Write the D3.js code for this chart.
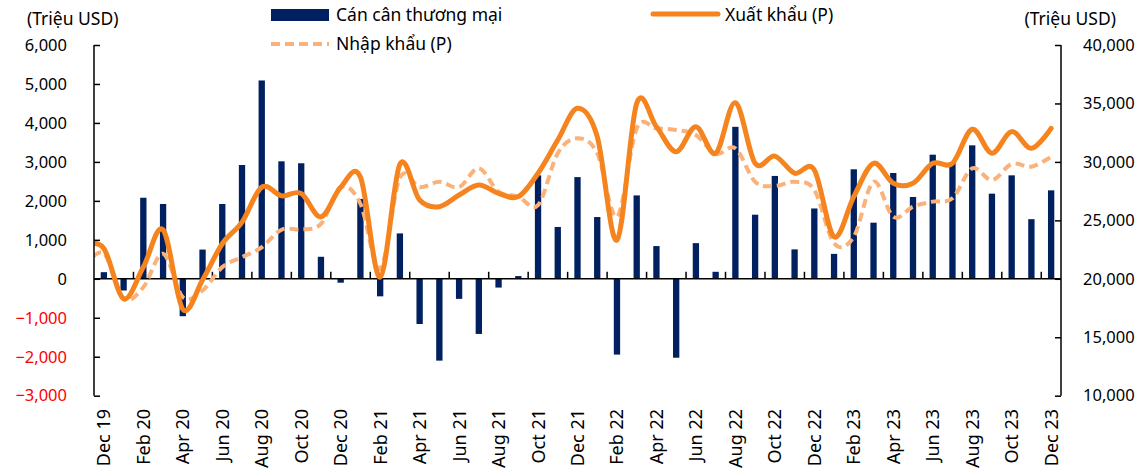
<!DOCTYPE html>
<html>
<head>
<meta charset="utf-8">
<script src="https://cdn.jsdelivr.net/npm/d3@7"></script>
<style>
  body { margin: 0; background: #fff; }
  text { font-family: "Noto Sans", "Open Sans", sans-serif; fill: #000; }
</style>
</head>
<body>
<svg width="1145" height="476"></svg>
<script>
const months = [
  "Dec 19",
  "Jan 20", "Feb 20", "Mar 20", "Apr 20", "May 20", "Jun 20", "Jul 20", "Aug 20", "Sep 20", "Oct 20", "Nov 20", "Dec 20",
  "Jan 21", "Feb 21", "Mar 21", "Apr 21", "May 21", "Jun 21", "Jul 21", "Aug 21", "Sep 21", "Oct 21", "Nov 21", "Dec 21",
  "Jan 22", "Feb 22", "Mar 22", "Apr 22", "May 22", "Jun 22", "Jul 22", "Aug 22", "Sep 22", "Oct 22", "Nov 22", "Dec 22",
  "Jan 23", "Feb 23", "Mar 23", "Apr 23", "May 23", "Jun 23", "Jul 23", "Aug 23", "Sep 23", "Oct 23", "Nov 23", "Dec 23"
];

// trade balance (left axis)
const balance = [
  170,
  -300, 2080, 1920, -960, 750, 1920, 2920, 5090, 3015, 2965, 565, -100,
  2050, -450, 1165, -1160, -2100, -515, -1415, -225, 70, 2655, 1330, 2610,
  1585, -1945, 2140, 840, -2025, 915, 180, 3900, 1645, 2640, 755, 1805,
  640, 2810, 1440, 2715, 2100, 3185, 2990, 3425, 2185, 2655, 1530, 2270
];

// exports & imports (right axis); first value is Nov 19, only partly visible
const exportsP = [
  22900, 22600,
  18300, 21000, 24200, 17400, 19900, 23000, 24850, 27840, 27100, 27300, 25300, 27840,
  28700, 20140, 29800, 26740, 26170, 27170, 28020, 27310, 27030, 29030, 31870, 34580,
  32160, 23320, 35010, 33010, 30870, 33010, 30740, 35060, 29880, 30500, 29030, 29310,
  23600, 27030, 29880, 28170, 28170, 29880, 29880, 32790, 30740, 32590, 31160, 32870
];
const importsP = [
  21000, 22190,
  18290, 19280, 22140, 18430, 19000, 21000, 21850, 22700, 24200, 24220, 24700, 27840,
  26420, 20850, 28650, 27840, 28300, 27840, 29450, 27450, 27030, 26300, 30740, 32020,
  30740, 25300, 32870, 32870, 32730, 32300, 30680, 31160, 28300, 27940, 28300, 27600,
  23040, 23600, 28300, 25300, 26170, 26600, 26890, 29450, 28450, 29820, 29590, 30440
];

const leftTicks = [-3000, -2000, -1000, 0, 1000, 2000, 3000, 4000, 5000, 6000];
const rightTicks = [10000, 15000, 20000, 25000, 30000, 35000, 40000];

const plotL = 94, plotR = 1061, plotT = 45, plotB = 395.7;
const fmt = d3.format(",");

const svg = d3.select("svg");

const x = d3.scaleBand()
  .domain(months)
  .range([plotL, plotR])
  .paddingInner(0.68)
  .paddingOuter(0.34);
const step = x.step();
const cx = i => x(months[i]) + x.bandwidth() / 2;

const yL = d3.scaleLinear().domain([-3000, 6000]).range([plotB, plotT]);
const yR = d3.scaleLinear().domain([10000, 40000]).range([plotB, plotT]);

svg.append("defs").append("clipPath").attr("id", "plot")
  .append("rect")
  .attr("x", plotL).attr("y", 0)
  .attr("width", plotR - plotL).attr("height", 476);

// bars
svg.append("g").selectAll("rect")
  .data(balance)
  .join("rect")
  .attr("x", (d, i) => x(months[i]))
  .attr("width", x.bandwidth())
  .attr("y", d => yL(Math.max(0, d)))
  .attr("height", d => Math.abs(yL(d) - yL(0)))
  .attr("fill", "#002060");

// zero axis with ticks every 2 months
svg.append("line")
  .attr("x1", plotL).attr("x2", plotR)
  .attr("y1", yL(0)).attr("y2", yL(0))
  .attr("stroke", "#000").attr("stroke-width", 1.5);

svg.append("g").selectAll("line")
  .data(d3.range(2, months.length, 2))
  .join("line")
  .attr("x1", i => plotL + i * step).attr("x2", i => plotL + i * step)
  .attr("y1", yL(0)).attr("y2", yL(0) - 7)
  .attr("stroke", "#000").attr("stroke-width", 1.5);

// lines (index 0 is the month before Dec 19)
const lineX = (d, i) => cx(0) + (i - 1) * step;
const line = d3.line()
  .x(lineX)
  .y(d => yR(d))
  .curve(d3.curveCardinal.tension(0));

const lines = svg.append("g").attr("clip-path", "url(#plot)");

lines.append("path")
  .attr("d", line(importsP))
  .attr("fill", "none")
  .attr("stroke", "#FAB27A")
  .attr("stroke-width", 4)
  .attr("stroke-dasharray", "9,5");

lines.append("path")
  .attr("d", line(exportsP))
  .attr("fill", "none")
  .attr("stroke", "#F5841F")
  .attr("stroke-width", 5)
  .attr("stroke-linecap", "round");

// left axis
const gL = svg.append("g").attr("transform", `translate(${plotL},0)`)
  .call(d3.axisRight(yL).tickValues(leftTicks).tickSize(6).tickFormat(""));
gL.select(".domain").remove();
gL.selectAll(".tick line").attr("stroke", "#000").attr("stroke-width", 1.5);
svg.append("line")
  .attr("x1", plotL).attr("x2", plotL).attr("y1", plotT).attr("y2", plotB)
  .attr("stroke", "#000").attr("stroke-width", 1.5);

svg.append("g").selectAll("text")
  .data(leftTicks)
  .join("text")
  .attr("x", 67)
  .attr("y", d => yL(d))
  .attr("dy", "0.35em")
  .attr("text-anchor", "end")
  .style("font-size", "16.5px")
  .style("fill", d => d < 0 ? "#FF0000" : "#000")
  .text(d => fmt(d));

// right axis
const gR = svg.append("g").attr("transform", `translate(${plotR},0)`)
  .call(d3.axisLeft(yR).tickValues(rightTicks).tickSize(6).tickFormat(""));
gR.select(".domain").remove();
gR.selectAll(".tick line").attr("stroke", "#000").attr("stroke-width", 1.5);
svg.append("line")
  .attr("x1", plotR).attr("x2", plotR).attr("y1", plotT).attr("y2", plotB)
  .attr("stroke", "#000").attr("stroke-width", 1.5);

svg.append("g").selectAll("text")
  .data(rightTicks)
  .join("text")
  .attr("x", 1083)
  .attr("y", d => yR(d))
  .attr("dy", "0.35em")
  .attr("text-anchor", "start")
  .style("font-size", "16.5px")
  .text(d => fmt(d));

// month labels
svg.append("g").selectAll("text")
  .data(months.filter((m, i) => i % 2 === 0))
  .join("text")
  .attr("transform", d => `translate(${x(d) + x.bandwidth() / 2 + 6.5},409) rotate(-90)`)
  .attr("text-anchor", "end")
  .style("font-size", "18px")
  .text(d => d);

// unit labels
svg.append("text").attr("x", 27).attr("y", 25)
  .style("font-size", "17.5px").text("(Triệu USD)");
svg.append("text").attr("x", 1116).attr("y", 25)
  .attr("text-anchor", "end")
  .style("font-size", "17.5px").text("(Triệu USD)");

// legend
svg.append("rect")
  .attr("x", 271).attr("y", 9).attr("width", 58).attr("height", 12)
  .attr("fill", "#002060");
svg.append("text").attr("x", 336).attr("y", 21)
  .style("font-size", "17.5px").text("Cán cân thương mại");

svg.append("line")
  .attr("x1", 271).attr("x2", 329).attr("y1", 44).attr("y2", 44)
  .attr("stroke", "#FAB27A").attr("stroke-width", 4)
  .attr("stroke-dasharray", "9,5");
svg.append("text").attr("x", 336).attr("y", 50)
  .style("font-size", "17.5px").text("Nhập khẩu (P)");

svg.append("line")
  .attr("x1", 653).attr("x2", 718).attr("y1", 14).attr("y2", 14)
  .attr("stroke", "#F5841F").attr("stroke-width", 5)
  .attr("stroke-linecap", "round");
svg.append("text").attr("x", 725).attr("y", 21)
  .style("font-size", "17.5px").text("Xuất khẩu (P)");
</script>
</body>
</html>
